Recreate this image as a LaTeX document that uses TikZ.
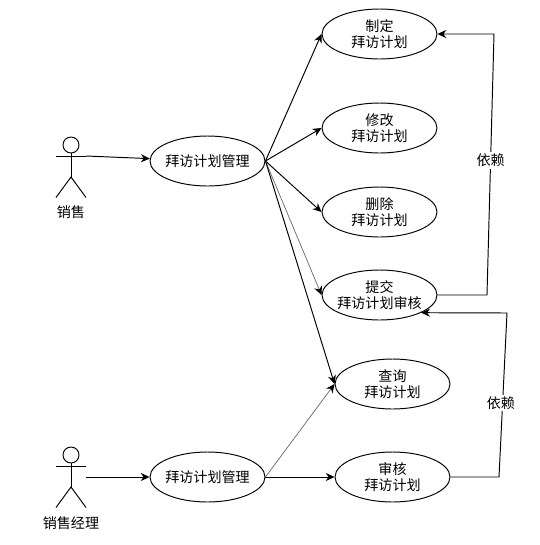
\documentclass[tikz,border=0pt]{standalone}
\usepackage{fontspec}
\setmainfont{Noto Sans CJK SC}
\usetikzlibrary{shapes,arrows.meta,positioning}

\begin{document}
\begin{tikzpicture}[
        x=0.02cm, y=-0.02cm,
        line width=0.55pt,
        >={Stealth[length=5pt,width=4.6pt,black]},
        usecase/.style={ellipse, draw, minimum width=2.3cm, minimum height=1cm, inner sep=-2pt, align=center, font=\fontsize{8}{9.2}\selectfont},
        actorhead/.style={circle, draw, minimum size=0.32cm, inner sep=0pt},
        actorname/.style={font=\fontsize{8}{9.2}\selectfont},
        arrow/.style={->},
        faint/.style={->, black!60, line width=0.4pt},
        deplabel/.style={fill=white, inner sep=1pt, font=\fontsize{8}{9.2}\selectfont}
    ]
        \useasboundingbox (0,0) rectangle (540,545);

        % Actors
        \foreach \name/\ytop in {sales/145, manager/455} {
            \node[actorhead] (\name head) at (71,\ytop) {};
            \coordinate (\name hip) at (71,\ytop+32);
            \draw (\name head) -- (\name hip);
            \draw (56,\ytop+11.5) -- (86,\ytop+11.5);
            \draw (56,\ytop+52.5) -- (\name hip) -- (86,\ytop+52.5);
        }
        \node[actorname] (salesname) at (71,212) {销售};
        \node[actorname] (managername) at (71,523) {销售经理};
        \coordinate (salesstart) at (86,156);
        \coordinate (managerstart) at (86,477);

        % Use cases
        \node[usecase] (salesplan) at (207.5,161) {拜访计划管理};
        \node[usecase] (managerplan) at (207.5,477) {拜访计划管理};
        \node[usecase] (create) at (379.5,34) {制定\\拜访计划};
        \node[usecase] (modify) at (379.5,128) {修改\\拜访计划};
        \node[usecase] (remove) at (379.5,212) {删除\\拜访计划};
        \node[usecase] (submit) at (379.5,295) {提交\\拜访计划审核};
        \node[usecase] (query) at (392.5,384) {查询\\拜访计划};
        \node[usecase] (review) at (392.5,477) {审核\\拜访计划};

        % Actor links
        \draw[arrow] (salesstart) -- (salesplan);
        \draw[arrow] (managerstart) -- (managerplan);

        % Sales links
        \draw[arrow] (salesplan.east) -- (create.west);
        \draw[arrow] (salesplan.east) -- (modify.west);
        \draw[arrow] (salesplan.east) -- (remove.west);
        \draw[faint] (salesplan.east) -- (submit.west);
        \draw[arrow] (salesplan.east) -- (query.west);

        % Manager links
        \draw[faint] (managerplan.east) -- (query.west);
        \draw[arrow] (managerplan.east) -- (review.west);

        % Dependencies
        \coordinate (depa) at (487,295);
        \coordinate (depb) at (494,34);
        \coordinate (depc) at (499,477);
        \coordinate (depd) at (507,313);
        \draw[arrow] (submit.east) -- (depa) -- node[deplabel, pos=0.52, yshift=-0.7pt] (deptop) {依赖} (depb) -- (create.east);
        \draw[arrow] (review.east) -- (depc) -- node[deplabel, pos=0.45, xshift=-1pt] (depbottom) {依赖} (depd) -- (submit.-23.4);
    \end{tikzpicture}
\end{document}
